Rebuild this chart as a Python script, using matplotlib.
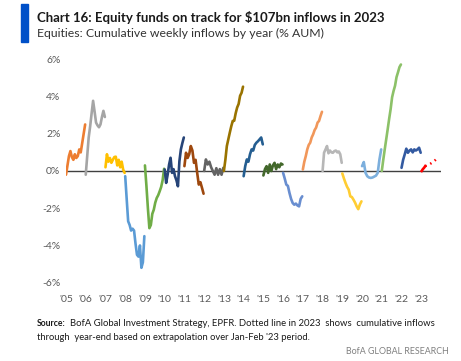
import numpy as np
import matplotlib
matplotlib.use('Agg')
import matplotlib.pyplot as plt
from matplotlib.patches import Rectangle

# cumulative weekly inflows by year, % AUM (evenly spaced through each year)
years = list(range(2005, 2023))
flows = {
    2005: [-0.2, 0.3, 0.8, 1.07, 0.75, 0.6, 0.9, 0.7, 0.8, 1.16, 1.0, 1.5, 2.0, 2.5],
    2006: [-0.2, 0.8, 1.8, 2.4, 3.1, 3.77, 3.2, 2.6, 2.45, 2.35, 2.5, 2.9, 3.23, 2.9],
    2007: [0.2, 0.9, 0.5, 0.7, 0.44, 0.6, 0.75, 0.77, 0.3, 0.6, 0.2, 0.5, 0.08, -0.1],
    2008: [-0.28, -1.5, -2.7, -2.9, -3.2, -3.1, -3.2, -3.9, -4.5, -4.6, -4.0, -5.2, -4.9, -3.5],
    2009: [0.3, -0.8, -2.0, -3.07, -2.9, -2.3, -2.08, -1.7, -1.45, -1.3, -1.09, -0.86, -0.5, 0.12],
    2010: [0.08, -0.64, -0.2, 0.35, 0.71, -0.1, 0.1, -0.28, -0.5, -0.82, 0.53, 1.16, 1.5, 1.8],
    2011: [0.26, 0.98, 0.7, 0.9, 1.34, 1.1, 0.44, 0.6, -0.1, -0.73, -0.6, -0.9, -1.22],
    2012: [0.0, 0.62, 0.35, 0.5, 0.2, 0.0, -0.2, 0.15, -0.2, 0.1, -0.2, 0.17],
    2013: [0.0, 0.6, 1.34, 1.7, 2.06, 2.4, 2.69, 2.7, 3.1, 3.41, 3.6, 4.04, 4.2, 4.53],
    2014: [-0.28, 0.26, 0.62, 0.5, 0.9, 1.16, 1.1, 1.4, 1.52, 1.6, 1.7, 1.8, 1.43],
    2015: [-0.24, 0.1, 0.26, -0.1, 0.35, 0.0, 0.3, 0.44, 0.1, 0.35, 0.2, 0.4, 0.35],
    2016: [-0.1, -0.4, -0.73, -0.8, -1.18, -1.5, -1.72, -1.81, -1.75, -1.85, -1.9, -1.5, -1.36],
    2017: [0.08, 0.5, 0.8, 1.16, 1.4, 1.52, 1.8, 1.97, 2.2, 2.33, 2.6, 2.69, 2.95, 3.18],
    2018: [0.0, 0.98, 1.16, 1.34, 0.95, 1.1, 1.0, 0.98, 1.07, 1.1, 1.0, 1.05, 0.9, 0.44],
    2019: [-0.13, -0.4, -0.64, -0.85, -1.0, -1.36, -1.4, -1.54, -1.7, -1.9, -2.05, -1.8, -1.63],
    2020: [0.26, 0.48, -0.1, -0.28, -0.35, -0.37, -0.35, -0.3, -0.25, -0.1, 0.62, 1.16],
    2021: [0.0, 0.6, 1.16, 1.7, 2.24, 2.8, 3.32, 3.96, 4.3, 4.58, 5.04, 5.3, 5.58, 5.72],
    2022: [0.17, 0.6, 0.89, 1.2, 0.98, 1.1, 1.16, 1.0, 1.16, 1.1, 1.16, 1.25, 0.98],
}
# 2023: actual Jan-Feb, then extrapolated to year-end
y23_x = [0.02, 0.08, 0.14, 0.2]
y23_vals = [0.0, 0.1, 0.17, 0.26]
y23_ext_x = [0.2, 0.4, 0.6, 0.8]
y23_ext_vals = [0.26, 0.35, 0.48, 0.67]

colors = ['#ED7D31', '#A5A5A5', '#FFC000', '#5B9BD5', '#70AD47',
          '#264478', '#9E480E', '#636363', '#997300', '#255E91', '#43682B',
          '#698ED0', '#F1975A', '#B7B7B7', '#FFCD33', '#7CAFDD', '#8CC168', '#335AA1']
tick_labels = ["'%02d" % (y % 100) for y in range(2005, 2024)]

fam = ['Lato', 'DejaVu Sans']
W, H = 461, 361

fig = plt.figure(figsize=(W/100, H/100), dpi=100)
ax = fig.add_axes([66/W, 1-282.7/H, 375/W, (282.7-59.3)/H])

ax.axhline(0, color='#404040', lw=1.0, zorder=1)
for yr, c in zip(years, colors):
    v = flows[yr]
    x = (yr - 2005) + np.linspace(0, 0.97, len(v))
    ax.plot(x, v, color=c, lw=1.9, solid_joinstyle='round', solid_capstyle='round', zorder=2)

ax.plot(18 + np.array(y23_x), y23_vals, color='red', lw=1.9, zorder=3)
ax.plot(18 + np.array(y23_ext_x), y23_ext_vals, color='red', lw=1.8,
        linestyle=(0, (0.6, 1.6)), zorder=3)

ax.set_xlim(0, 19)
ax.set_ylim(-6, 6)
ax.set_xticks(range(19))
ax.set_xticklabels(tick_labels)
ax.set_yticks(range(-6, 7, 2))
ax.set_yticklabels(['%d%%' % t for t in range(-6, 7, 2)])
ax.tick_params(length=0, labelsize=7.5, colors='#595959', pad=4)
ax.tick_params(axis='x', pad=9)
for s in ax.spines.values():
    s.set_visible(False)
for lab in ax.get_xticklabels() + ax.get_yticklabels():
    lab.set_family(fam)

fig.patches.append(Rectangle((21/W, 1-42/H), 7/W, 38/H, transform=fig.transFigure,
                             color='#0050C8', zorder=5))

texts = []
def put(x0, x1, y, s, size, **kw):
    t = fig.text(x0/W, 1-y/H, s, fontsize=size, family=fam, va='center', **kw)
    texts.append((t, x1 - x0))
    return t

put(37, 385, 17, 'Chart 16: Equity funds on track for $107bn inflows in 2023', 10,
    fontweight='bold', color='#1A1A1A')
put(37, 327, 33, 'Equities: Cumulative weekly inflows by year (% AUM)', 9, color='#333333')
put(37, 66, 323, 'Source:', 7, fontweight='bold', color='#1A1A1A')
put(70, 436, 323, 'BofA Global Investment Strategy, EPFR. Dotted line in 2023  shows  cumulative inflows',
    7, color='#1A1A1A')
put(37, 311, 337, "through  year-end based on extrapolation over Jan-Feb '23 period.", 7, color='#1A1A1A')
rt = put(346, 450, 352, 'BofA GLOBAL RESEARCH', 7, color='#808080')

# fit each text to the width it takes in the reference
fig.canvas.draw()
r = fig.canvas.get_renderer()
for t, w in texts:
    cur = t.get_window_extent(r).width
    t.set_fontsize(t.get_fontsize() * w / cur)

fig.savefig('out.png', dpi=100)
